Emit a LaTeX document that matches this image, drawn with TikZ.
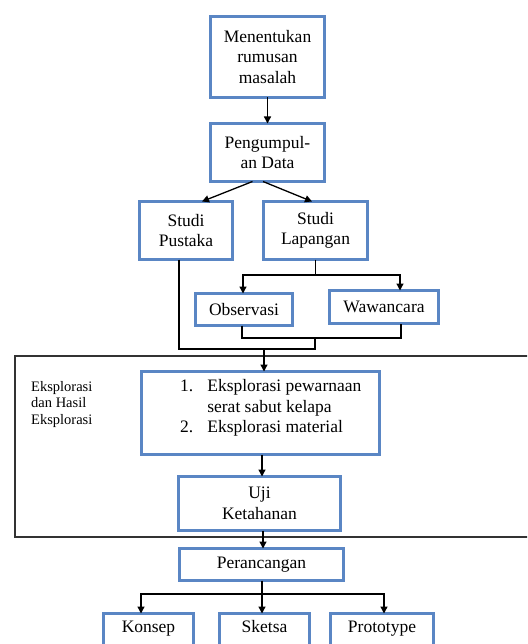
\documentclass[tikz,border=0pt]{standalone}
\usepackage{fontspec}
\setmainfont{Liberation Serif}
\usetikzlibrary{arrows.meta}
\definecolor{bxblue}{HTML}{5A86C4}
\tikzset{
  bx/.style={draw=bxblue, line width=3pt, fill=white, outer sep=0pt, inner sep=2pt,
    align=center, font=\fontsize{17.5}{20.5}\selectfont},
  bxopen/.style={draw=none, outer sep=0pt, inner sep=2pt, align=center,
    text height=12pt, text depth=4pt,
    font=\fontsize{17.5}{20.5}\selectfont},
  bxline/.style={draw=bxblue, line width=3pt},
  conn/.style={draw=black, line width=1.3pt},
  arr/.style={conn, -{Triangle[length=7pt,width=7pt]}},
  bigline/.style={draw=black!80, line width=1.4pt},
  sidetxt/.style={align=left, inner sep=0pt, anchor=north west,
    font=\fontsize{14.5}{16.7}\selectfont},
}
\begin{document}
\begin{tikzpicture}[x=1pt,y=-1pt]
\useasboundingbox (0,0) rectangle (527,644);
\clip (0,0) rectangle (527,644);

% big frame
\draw[bigline] (540,356) -- (15,356) -- (15,537) -- (540,537);
\node[sidetxt] (side) at (31,381) {Eksplorasi\\dan Hasil\\Eksplorasi};

% boxes
\node[bx, minimum width=114, minimum height=81] (b1) at (267.5,57) {Menentukan\\rumusan\\masalah};
\node[bx, minimum width=114, minimum height=58] (b2) at (267.5,152.5) {Pengumpul-\\an Data};
\node[bx, minimum width=93, minimum height=58] (sp) at (186,230.5) {Studi\\Pustaka};
\node[bx, minimum width=104, minimum height=58] (sl) at (315.5,230.5) {Studi\\Lapangan};
\node[bx, minimum width=97, minimum height=32] (obs) at (244,309.5) {Observasi};
\node[bx, minimum width=109, minimum height=33] (waw) at (384,307) {Wawancara};
\node[bx, minimum width=238, minimum height=83] (eks) at (260.5,413) {};
\node[anchor=north west, inner sep=0pt, font=\fontsize{17.5}{20.5}\selectfont] (ekstext) at (180,377)
  {\begin{tabular}{@{}r@{\hspace{14pt}}l@{}}1. & Eksplorasi pewarnaan\\ & serat sabut kelapa\\ 2. & Eksplorasi material\end{tabular}};
\node[bx, minimum width=162, minimum height=54] (uji) at (259.5,503.5) {Uji\\Ketahanan};
\node[bx, minimum width=164, minimum height=32] (per) at (261.5,564.5) {Perancangan};
\node[bxopen, minimum width=90, minimum height=29] (kon) at (148.5,628) {Konsep};
\node[bxopen, minimum width=90, minimum height=29] (ske) at (264.5,628) {Sketsa};
\node[bxopen, minimum width=103, minimum height=29] (pro) at (382,628) {Prototype};
\foreach \n in {kon,ske,pro}{
  \draw[bxline] ([yshift=-30pt]\n.south west) -- (\n.north west) -- (\n.north east) -- ([yshift=-30pt]\n.south east);
}

% junction coordinates
\coordinate (j1) at (315.5,275);
\coordinate (j2) at (315,338);
\coordinate (j3) at (264,349);
\coordinate (j5) at (262,594);

% connectors
\draw[arr] (b1.south) -- (b2.north);
\draw[arr] ([xshift=-15]b2.south) -- ([xshift=16]sp.north);
\draw[arr] ([xshift=-4.5]b2.south) -- ([xshift=-3.5]sl.north);
\draw[conn] (sl.south) -- (j1);
\draw[arr] (j1) -| ([xshift=-1]obs.north);
\draw[arr] (j1) -| ([xshift=16]waw.north);
\draw[conn] ([xshift=-2]obs.south) |- (j2) -| ([xshift=17]waw.south);
\draw[conn] ([xshift=-7]sp.south) |- (j3) -| (j2);
\draw[arr] (j3) -- (j3 |- eks.north);
\draw[arr] ([xshift=1.5]eks.south) -- ([xshift=1.5]eks.south |- uji.north);
\draw[arr] ([xshift=3.5]uji.south) -- ([xshift=3.5]uji.south |- per.north);
\draw[conn] (per.south -| j5) -- (j5);
\draw[arr] (j5) -| ([xshift=-7.5]kon.north);
\draw[arr] (j5) -- ([xshift=-2.5]ske.north);
\draw[arr] (j5) -| ([xshift=2]pro.north);
\end{tikzpicture}
\end{document}
